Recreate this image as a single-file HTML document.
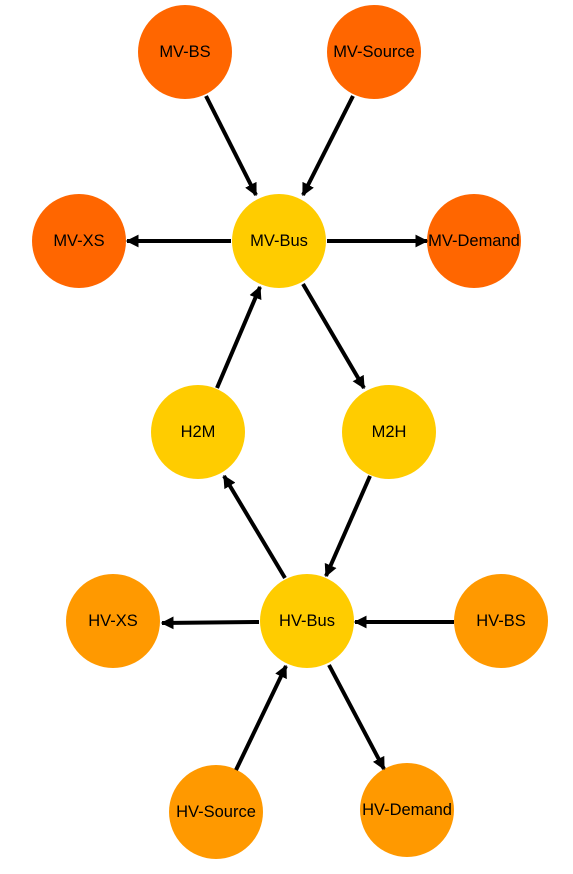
<!DOCTYPE html>
<html><head><meta charset="utf-8"><style>
html,body{margin:0;padding:0;background:#fff;}
svg{display:block;}
text{font-family:"Liberation Sans",sans-serif;font-size:16.5px;text-anchor:middle;dominant-baseline:central;fill:#000;}
</style></head><body>
<svg width="573" height="874" viewBox="0 0 573 874">
<defs>
<marker id="a" viewBox="0 0 10 10" refX="9" refY="5" markerWidth="3.2" markerHeight="3.2" orient="auto" markerUnits="strokeWidth">
<path d="M0,0 L10,5 L0,10 z" fill="#000"/></marker>
</defs>
<g fill="#FF6600">
<circle cx="185" cy="52" r="47"/><circle cx="374" cy="52" r="47"/>
<circle cx="79" cy="241" r="47"/><circle cx="474" cy="241" r="47"/>
</g>
<g fill="#FFCC00">
<circle cx="279" cy="241" r="47"/><circle cx="198" cy="432" r="47"/>
<circle cx="389" cy="432" r="47"/><circle cx="307" cy="621" r="47"/>
</g>
<g fill="#FF9900">
<circle cx="113" cy="621" r="47"/><circle cx="501" cy="621" r="47"/>
<circle cx="216" cy="812" r="47"/><circle cx="407" cy="810" r="47"/>
</g>
<g stroke="#000" stroke-width="4" marker-end="url(#a)">
<line x1="206" y1="96" x2="256" y2="195"/>
<line x1="353" y1="96" x2="303" y2="195"/>
<line x1="231" y1="241" x2="127" y2="241"/>
<line x1="327" y1="241" x2="427" y2="241"/>
<line x1="303" y1="284" x2="364" y2="388"/>
<line x1="217" y1="388" x2="260" y2="287"/>
<line x1="370" y1="476" x2="326" y2="576"/>
<line x1="285" y1="578" x2="224" y2="476"/>
<line x1="259" y1="622" x2="162" y2="623"/>
<line x1="454" y1="622" x2="355" y2="622"/>
<line x1="236" y1="770" x2="286" y2="666"/>
<line x1="329" y1="665" x2="384" y2="769"/>
</g>
<text x="185" y="52">MV-BS</text>
<text x="374" y="52">MV-Source</text>
<text x="79" y="241">MV-XS</text>
<text x="279" y="241">MV-Bus</text>
<text x="474" y="241">MV-Demand</text>
<text x="198" y="432">H2M</text>
<text x="389" y="432">M2H</text>
<text x="113" y="621">HV-XS</text>
<text x="307" y="621">HV-Bus</text>
<text x="501" y="621">HV-BS</text>
<text x="216" y="812">HV-Source</text>
<text x="407" y="810">HV-Demand</text>
</svg>
</body></html>
